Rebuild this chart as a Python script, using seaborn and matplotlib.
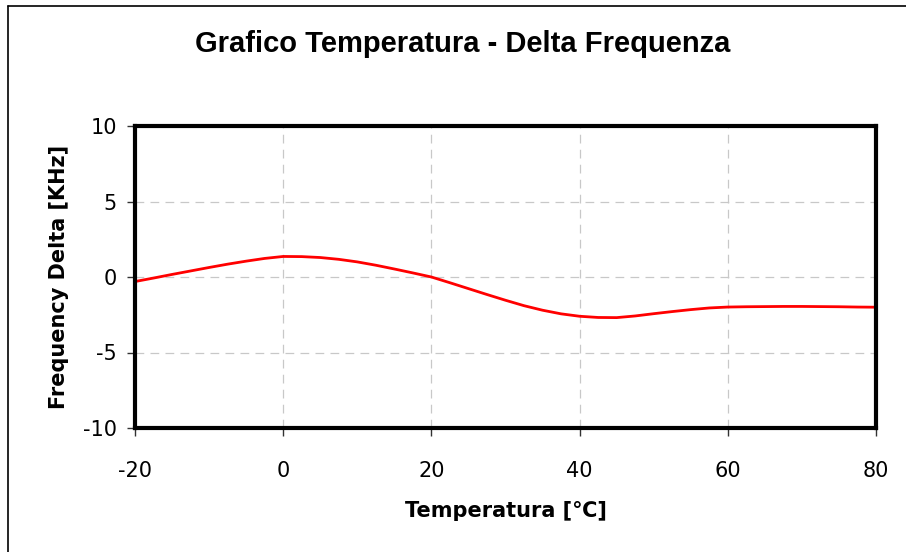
import matplotlib
matplotlib.use("Agg")
import matplotlib.pyplot as plt
import pandas as pd
import seaborn as sns
from matplotlib.lines import Line2D

# values, every 2.5 degrees
temperatura = [-20, -17.5, -15, -12.5, -10, -7.5, -5, -2.5, 0, 2.5, 5, 7.5,
               10, 12.5, 15, 17.5, 20, 22.5, 25, 27.5, 30, 32.5, 35, 37.5,
               40, 42.5, 45, 47.5, 50, 52.5, 55, 57.5, 60, 62.5, 65, 67.5,
               70, 72.5, 75, 77.5, 80]
delta_freq = [-0.30, -0.07, 0.17, 0.40, 0.63, 0.85, 1.05, 1.23, 1.36, 1.35,
              1.29, 1.17, 1.00, 0.78, 0.53, 0.27, 0.00, -0.38, -0.77, -1.16,
              -1.54, -1.90, -2.20, -2.44, -2.60, -2.68, -2.69, -2.58, -2.43,
              -2.29, -2.16, -2.05, -1.99, -1.97, -1.96, -1.95, -1.95, -1.96,
              -1.97, -1.99, -2.00]

x_ticks = [-20, 0, 20, 40, 60, 80]
y_ticks = [-10, -5, 0, 5, 10]

df = pd.DataFrame({'Temperatura': temperatura, 'Delta': delta_freq})

sns.set_style('white')
plt.rcParams['font.family'] = ['DejaVu Sans']
plt.rcParams['axes.unicode_minus'] = False
plt.rcParams['text.color'] = 'black'
plt.rcParams['axes.labelcolor'] = 'black'

fig = plt.figure(figsize=(9.06, 5.52), dpi=100)
ax = fig.add_axes([135 / 906, 1 - 428 / 552, (876 - 135) / 906, (428 - 126) / 552])

sns.lineplot(data=df, x='Temperatura', y='Delta', ax=ax, color='#ff0000',
             linewidth=2, sort=True)

ax.set_xlim(-20, 80)
ax.set_ylim(-10, 10)
ax.set_xticks(x_ticks)
ax.set_yticks(y_ticks)
ax.tick_params(axis='both', labelsize=15, length=6, width=1, color='#333333',
               direction='out', labelcolor='black')
ax.tick_params(axis='x', pad=18)
ax.tick_params(axis='y', pad=7)
ax.tick_params(axis='both', which='both', bottom=True, left=True)
ax.grid(True, color='#c8c8c8', linestyle=(0, (7, 5)), linewidth=0.9)

for sp in ax.spines.values():
    sp.set_visible(True)
    sp.set_color('black')
    sp.set_linewidth(3)

ax.set_xlabel('Temperatura [℃]', fontsize=15, fontweight='bold', labelpad=14)
ax.set_ylabel('Frequency Delta [KHz]', fontsize=15, fontweight='bold', labelpad=10)

fig.text(463 / 906, 1 - 44 / 552, 'Grafico Temperatura - Delta Frequenza',
         ha='center', va='center', fontsize=21, fontweight='bold',
         family='Liberation Sans', color='black')

# outer chart border (right and bottom edges are cut off in the reference)
fig.add_artist(Line2D([7.5 / 906, 1.0], [1 - 6 / 552, 1 - 6 / 552],
                      transform=fig.transFigure, color='black', linewidth=1.2))
fig.add_artist(Line2D([7.5 / 906, 7.5 / 906], [0.0, 1 - 6 / 552],
                      transform=fig.transFigure, color='black', linewidth=1.2))

fig.savefig('out.png', dpi=100)
